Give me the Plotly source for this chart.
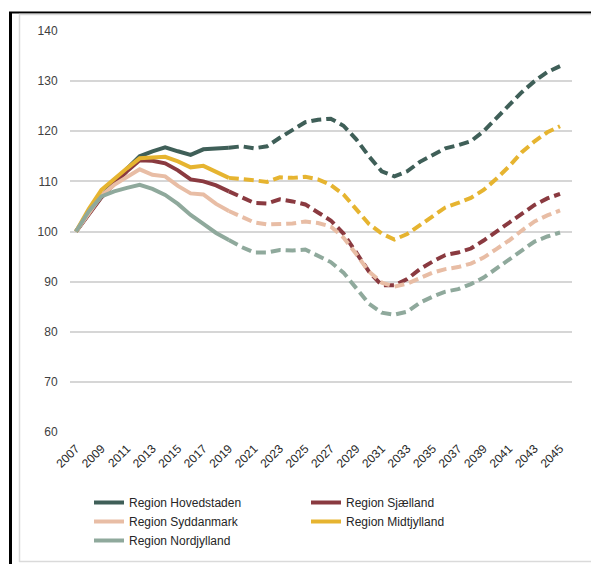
import plotly.graph_objects as go

years = list(range(2007, 2046))

hovedstaden = [100, 103.5, 107, 110, 112.5, 115, 116, 116.8, 116, 115.3, 116.4, 116.6, 116.7,
               117.0, 116.6, 117.0, 118.7, 120.3, 121.8, 122.3, 122.5, 121.1, 118.4, 115.0,
               112.0, 111.0, 112.0, 113.9, 115.2, 116.6, 117.2, 118.0, 120.0, 122.5, 125.2,
               127.8, 130.0, 131.8, 133.0]
sjaelland = [100, 103.5, 106.8, 109.5, 112.0, 114.2, 114.1, 113.6, 112.2, 110.4, 110.0, 109.2,
             108.0, 106.8, 105.7, 105.6, 106.4, 106.0, 105.4, 103.8, 102.2, 99.6, 95.8, 92.0,
             89.3, 89.3, 90.5, 92.5, 94.0, 95.3, 95.8, 96.6, 98.2, 100.0, 101.6, 103.5, 105.3,
             106.6, 107.5]
syddanmark = [100, 103.5, 107.2, 109.3, 110.8, 112.4, 111.3, 111.0, 109.1, 107.6, 107.4, 105.5,
              104.1, 102.9, 101.8, 101.4, 101.5, 101.6, 102.0, 101.7, 101.0, 98.8, 95.5, 92.0,
              89.8, 89.0, 89.6, 90.7, 91.8, 92.5, 92.9, 93.6, 94.8, 96.5, 98.2, 100.2, 102.0,
              103.2, 104.2]
midtjylland = [100, 104.5, 108.3, 110.5, 112.6, 114.6, 114.7, 114.9, 114.0, 112.8, 113.1, 112.0,
               110.7, 110.5, 110.2, 109.9, 110.8, 110.7, 110.9, 110.4, 109.3, 107.4, 104.5,
               101.5, 99.6, 98.4, 99.5, 101.3, 103.0, 104.8, 105.7, 106.7, 108.3, 110.5, 113.0,
               115.8, 118.0, 119.8, 121.0]
nordjylland = [100, 104.0, 107.0, 108.0, 108.7, 109.3, 108.5, 107.3, 105.5, 103.3, 101.5, 99.7,
               98.3, 96.9, 95.8, 95.8, 96.3, 96.2, 96.4, 95.1, 93.9, 91.8, 88.8, 85.6, 83.8,
               83.4, 84.0, 85.8, 87.0, 88.0, 88.5, 89.5, 90.8, 92.6, 94.5, 96.3, 98.0, 99.0, 99.8]

names = ["Region Hovedstaden", "Region Sjælland", "Region Syddanmark",
         "Region Midtjylland", "Region Nordjylland"]
series = [hovedstaden, sjaelland, syddanmark, midtjylland, nordjylland]
colors = ["#3f5f58", "#8a3a40", "#e8bda5", "#e6b430", "#8fa99c"]
legend_ids = ["legend", "legend2", "legend", "legend2", "legend"]

split_year = 2019
tick_years = list(range(2007, 2046, 2))

W, H = 591, 564
L, R, T, B = 70, 19, 31, 132
PW, PH = W - L - R, H - T - B

def px(x):
    return (x - L) / PW

def py(y):
    return (H - B - y) / PH

fig = go.Figure()
for name, vals, col, lg in zip(names, series, colors, legend_ids):
    k = years.index(split_year)
    fig.add_trace(go.Scatter(
        x=years[:k + 1], y=vals[:k + 1], mode="lines", name=name,
        line=dict(color=col, width=4), legendgroup=name, legend=lg))
    fig.add_trace(go.Scatter(
        x=years[k:], y=vals[k:], mode="lines", name=name, showlegend=False,
        line=dict(color=col, width=4, dash="10px,5px"), legendgroup=name, legend=lg))

shapes = [
    dict(type="line", xref="paper", yref="paper", x0=px(9), x1=px(600), y0=py(12.5), y1=py(12.5),
         line=dict(color="black", width=2)),
    dict(type="line", xref="paper", yref="paper", x0=px(10.5), x1=px(10.5), y0=py(12), y1=py(570),
         line=dict(color="black", width=3)),
    dict(type="line", xref="paper", yref="paper", x0=px(19.5), x1=px(19.5), y0=py(14), y1=py(562),
         line=dict(color="#dadada", width=1.5)),
    dict(type="line", xref="paper", yref="paper", x0=px(19), x1=px(600), y0=py(14.5), y1=py(14.5),
         line=dict(color="#dadada", width=1.5)),
    dict(type="line", xref="paper", yref="paper", x0=px(19), x1=px(600), y0=py(561.5), y1=py(561.5),
         line=dict(color="#dadada", width=1.5)),
]

legend_common = dict(orientation="v", xanchor="left", yanchor="top", tracegroupgap=0,
                     traceorder="normal", font=dict(size=12, color="#262626"),
                     bgcolor="rgba(0,0,0,0)")

fig.update_layout(
    width=W, height=H,
    margin=dict(l=L, r=R, t=T, b=B, autoexpand=False),
    paper_bgcolor="white", plot_bgcolor="white",
    font=dict(family="Liberation Sans, Arial, sans-serif", size=12, color="#404040"),
    shapes=shapes,
    showlegend=True,
    legend=dict(x=px(89), y=py(488), **legend_common),
    legend2=dict(x=px(306), y=py(488), **legend_common),
    xaxis=dict(range=[2006.53, 2045.94], tickvals=tick_years, ticktext=[str(y) for y in tick_years],
               tickangle=-45, showgrid=False, zeroline=False, showline=False, automargin=False,
               ticks="outside", ticklen=4, tickcolor="rgba(0,0,0,0)",
               tickfont=dict(size=12, color="#262626")),
    yaxis=dict(range=[60, 140], dtick=10, tick0=60, showgrid=True, gridcolor="#d6d6d6",
               gridwidth=1.5, zeroline=False, showline=False, automargin=False,
               ticks="outside", ticklen=9, tickcolor="rgba(0,0,0,0)",
               tickfont=dict(size=12, color="#404040")),
)

fig.write_html("out.html",
               config={"displayModeBar": False},
               post_script="document.body.style.margin='0';document.body.style.overflow='hidden';")
